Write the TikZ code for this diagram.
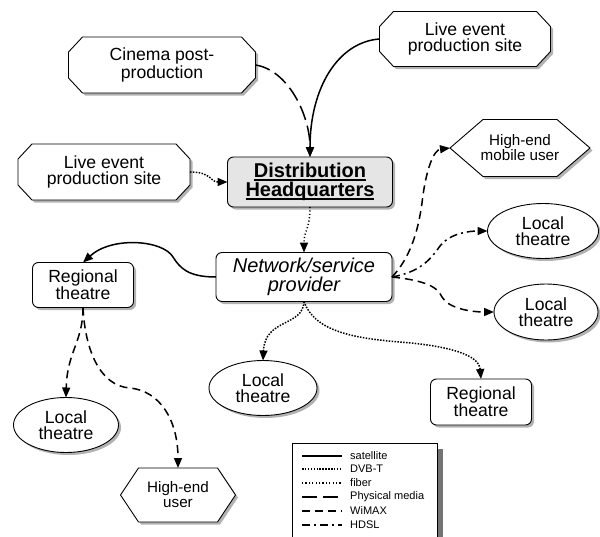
\documentclass[tikz,border=0pt]{standalone}
\usepackage{fontspec}
\setmainfont{Liberation Sans}
\usetikzlibrary{arrows.meta,shadows,backgrounds,shapes.geometric}

% underline with a fixed offset below the baseline
\newcommand\hqline[1]{\setbox0\hbox{#1}\rlap{\rule[-3.2pt]{\wd0}{1.7pt}}\box0}

% octagon outline around a (borderless) rectangular node
\newcommand\octoutline[3]{%
  \path[outline] ([xshift=#2]#1.north west) -- ([xshift=-#2]#1.north east)
    -- ([yshift=-#3]#1.north east) -- ([yshift=#3]#1.south east)
    -- ([xshift=-#2]#1.south east) -- ([xshift=#2]#1.south west)
    -- ([yshift=#3]#1.south west) -- ([yshift=-#3]#1.north west) -- cycle;}

% hexagon outline around a (borderless) rectangular node
\newcommand\hexoutline[2]{%
  \path[outline] (#1.west) -- ([xshift=#2]#1.north west) -- ([xshift=-#2]#1.north east)
    -- (#1.east) -- ([xshift=-#2]#1.south east) -- ([xshift=#2]#1.south west) -- cycle;}

\tikzset{
  x=1pt, y=-1pt,
  shade/.style={drop shadow={shadow xshift=2.5pt, shadow yshift=-2.5pt, fill=black!30, opacity=1}},
  base/.style={shape=rectangle, inner sep=0pt, outer sep=0pt, align=center,
    font=\fontsize{17.6}{16}\selectfont},
  rbox/.style={base, draw, line width=0.9pt, fill=white, rounded corners=6pt, shade},
  oval/.style={base, shape=ellipse, draw, line width=0.9pt, fill=white, shade},
  polybox/.style={base},
  hexbox/.style={base, font=\fontsize{15.2}{15}\selectfont},
  outline/.style={draw, line width=0.9pt, fill=white, shade},
  hqbox/.style={rbox, fill=black!10, font=\fontsize{20}{18.5}\selectfont\bfseries},
  netbox/.style={rbox, font=\fontsize{20}{18.5}\selectfont\itshape},
  link/.style={line width=1.5pt, -{Triangle[length=10pt,width=8pt]}},
  satellite/.style={},
  dvbt/.style={dash pattern=on 1.5pt off 1.4pt},
  fiber/.style={dash pattern=on 1.1pt off 2.3pt},
  physical/.style={dash pattern=on 15pt off 6pt},
  wimax/.style={dash pattern=on 8pt off 5pt},
  hdsl/.style={dash pattern=on 8pt off 4pt on 2pt off 4pt},
  legtext/.style={anchor=west, inner sep=0pt, font=\fontsize{11}{12}\selectfont},
  legline/.style={line width=1.3pt},
}

\begin{document}
\begin{tikzpicture}
\useasboundingbox (0,0) rectangle (600,536);
\clip (0,0) rectangle (600,536);

% sources
\node[polybox, minimum width=187pt, minimum height=56pt] (cin) at (162,65) {Cinema post-\\production};
\node[polybox, minimum width=172pt, minimum height=56pt] (liveL) at (104,172) {Live event\\production site};
\node[polybox, minimum width=171pt, minimum height=55pt] (liveR) at (465,39) {Live event\\production site};

% distribution chain
\node[hqbox, minimum width=165pt, minimum height=50pt] (hq) at (310,182) {\hqline{Distribution}\\\hqline{Headquarters}};
\node[netbox, minimum width=176pt, minimum height=49pt] (net) at (304,277) {Network/service\\provider};

% receivers
\node[rbox, minimum width=101pt, minimum height=45pt] (regL) at (83,285) {Regional\\theatre};
\node[oval, minimum width=105pt, minimum height=55pt] (locL) at (66,425) {Local\\theatre};
\node[hexbox, minimum width=115pt, minimum height=54pt] (heU) at (178,495) {High-end\\user};
\node[oval, minimum width=108pt, minimum height=55pt] (locM) at (263,388) {Local\\theatre};
\node[rbox, minimum width=101pt, minimum height=46pt] (regR) at (481,402) {Regional\\theatre};
\node[hexbox, minimum width=140pt, minimum height=57pt] (mob) at (520,148) {High-end\\mobile user};
\node[oval, minimum width=111pt, minimum height=55pt] (locA) at (543,231) {Local\\theatre};
\node[oval, minimum width=104pt, minimum height=56pt] (locB) at (546,312) {Local\\theatre};

\begin{scope}[on background layer]
  \octoutline{cin}{14pt}{15pt}
  \octoutline{liveL}{14pt}{15pt}
  \octoutline{liveR}{14pt}{15pt}
  \hexoutline{heU}{18pt}
  \hexoutline{mob}{33pt}
\end{scope}

% connections
\draw[link, physical] (cin.east) .. controls (288,70) and (310,115) .. (hq.north);
\draw[link, satellite] (liveR.west) .. controls (338,42) and (310,88) .. (hq.north);
\draw[link, dvbt] (liveL.east) .. controls (212,172) and (210,182) .. (hq.west);
\draw[link, fiber] (hq.south) .. controls (310,230) and (304,230) .. (net.north);

\draw[link, satellite] (net.west) .. controls (188,277) and (180,268) .. (173,257)
  .. controls (163,240) and (112,236) .. (regL.north);
\draw[link, wimax] (regL.south) .. controls (83,342) and (67,352) .. (locL.north);
\draw[link, wimax] (regL.south) .. controls (85,350) and (100,386) .. (130,388)
  .. controls (160,391) and (178,420) .. (heU.north);

\draw[link, dvbt] (net.south) .. controls (303,327) and (265,318) .. (locM.north);
\draw[link, dvbt] (net.south) .. controls (314,330) and (350,338) .. (400,342)
  .. controls (450,346) and (479,355) .. (regR.north);

\draw[link, wimax] (net.east) .. controls (410,258) and (418,232) .. (422,203)
  .. controls (426,168) and (434,150) .. (mob.west);
\draw[link, hdsl] (net.east) .. controls (420,272) and (430,260) .. (440,246)
  .. controls (450,233) and (470,231) .. (locA.west);
\draw[link, wimax] (net.east) .. controls (420,280) and (437,285) .. (442,297)
  .. controls (448,308) and (470,312) .. (locB.west);

% legend
\fill[black!55] (437,449) rectangle (443,545);
\draw[line width=0.9pt, fill=white] (292,443) rectangle (437,545);
\node[legtext] (lsat) at (350,456) {satellite};
\node[legtext] (ldvb) at (350,469) {DVB-T};
\node[legtext] (lfib) at (350,483) {fiber};
\node[legtext] (lphy) at (350,497) {Physical media};
\node[legtext] (lwim) at (350,511) {WiMAX};
\node[legtext] (lhds) at (350,525) {HDSL};
\draw[legline, line width=1.8pt, satellite] ([xshift=-48pt]lsat.west) -- ++(40pt,0);
\draw[legline, dvbt] ([xshift=-48pt]ldvb.west) -- ++(40pt,0);
\draw[legline, fiber] ([xshift=-48pt]lfib.west) -- ++(40pt,0);
\draw[legline, physical] ([xshift=-48pt]lphy.west) -- ++(40pt,0);
\draw[legline, wimax] ([xshift=-48pt]lwim.west) -- ++(40pt,0);
\draw[legline, hdsl] ([xshift=-48pt]lhds.west) -- ++(40pt,0);
\end{tikzpicture}
\end{document}
